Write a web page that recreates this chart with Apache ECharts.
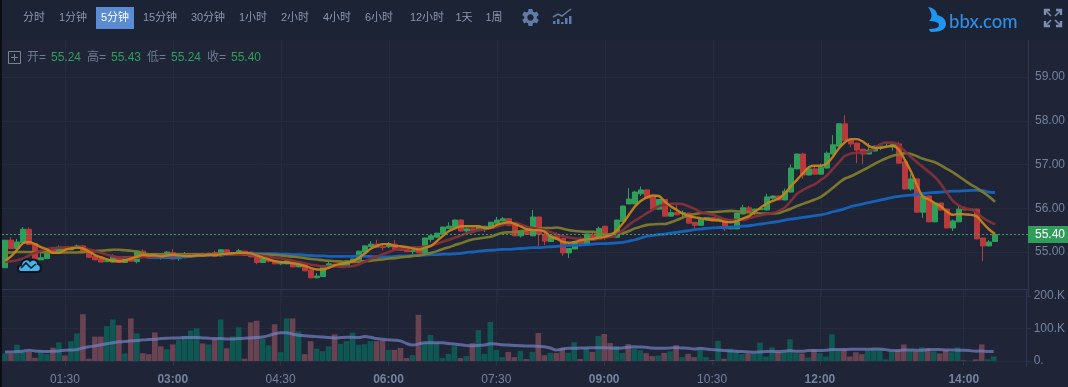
<!DOCTYPE html>
<html><head><meta charset="utf-8"><style>html,body{margin:0;padding:0;background:#1f2536;overflow:hidden}#c{width:1068px;height:387px}</style>
<script src="https://cdn.jsdelivr.net/npm/echarts@6/dist/echarts.min.js"></script></head><body><div id="c"></div><script>
const opens=[54.64,55.27,55.08,55.21,55.52,55.19,54.82,54.85,55.10,55.00,
55.11,55.05,55.09,55.14,55.00,54.90,54.85,54.78,54.77,54.89,
54.76,54.90,54.78,55.02,54.92,54.92,54.92,54.85,54.99,54.85,
54.87,54.89,54.90,54.95,54.92,54.99,54.91,55.05,54.95,54.95,
55.02,55.00,54.91,54.76,54.81,54.80,54.73,54.73,54.80,54.66,
54.72,54.59,54.41,54.44,54.66,54.72,54.66,54.68,54.76,54.82,
55.00,55.12,55.18,55.12,55.12,55.18,55.08,55.06,55.01,55.05,
54.98,55.29,55.34,55.40,55.54,55.56,55.73,55.48,55.53,55.50,
55.54,55.54,55.66,55.71,55.76,55.66,55.37,55.46,55.37,55.80,
55.40,55.24,55.37,55.31,54.98,55.07,55.25,55.18,55.39,55.30,
55.59,55.39,55.34,55.70,56.10,56.10,56.33,56.42,56.26,55.98,
56.20,55.82,55.90,55.88,55.89,55.68,55.61,55.73,55.79,55.73,
55.75,55.53,55.53,55.87,56.01,55.94,55.97,55.96,56.23,56.28,
56.19,56.37,56.90,57.24,56.76,56.90,56.78,56.92,57.24,57.42,
57.93,57.56,57.49,57.35,57.24,57.31,57.38,57.40,57.40,57.47,
57.06,56.44,56.67,55.91,56.28,55.69,56.12,55.98,55.55,55.69,
55.98,55.96,55.98,55.32,55.14,55.24];
const closes=[55.27,55.08,55.23,55.52,55.17,54.83,54.87,55.05,55.02,55.11,
55.04,55.11,55.14,54.98,54.88,54.82,54.77,54.80,54.89,54.76,
54.89,54.79,55.02,54.91,54.86,54.85,54.87,55.00,54.84,54.89,
54.95,54.93,54.93,54.91,54.97,54.90,55.05,54.95,54.98,55.03,
54.92,54.89,54.76,54.85,54.79,54.73,54.76,54.80,54.66,54.72,
54.57,54.41,54.45,54.68,54.73,54.66,54.72,54.80,54.84,55.02,
55.14,55.18,55.11,55.10,55.18,55.04,55.04,55.01,55.03,54.98,
55.32,55.37,55.43,55.57,55.59,55.73,55.48,55.53,55.49,55.56,
55.59,55.68,55.73,55.76,55.61,55.37,55.46,55.40,55.80,55.40,
55.25,55.37,55.30,54.98,55.08,55.24,55.19,55.41,55.27,55.54,
55.39,55.34,55.73,56.05,56.21,56.37,56.42,56.23,55.98,56.20,
55.82,55.90,55.85,55.90,55.66,55.61,55.75,55.79,55.71,55.76,
55.53,55.58,55.89,56.01,55.94,55.98,55.99,56.26,56.28,56.19,
56.39,56.92,57.24,56.76,56.90,56.78,56.94,57.26,57.45,57.93,
57.54,57.47,57.33,57.24,57.33,57.42,57.42,57.42,57.47,57.03,
56.44,56.67,55.91,56.28,55.69,56.12,55.96,55.55,55.71,55.98,
55.96,55.98,55.30,55.14,55.23,55.40];
const lows=[54.64,55.08,55.06,55.21,55.17,54.83,54.82,54.85,55.00,54.97,
55.03,55.04,55.08,54.97,54.86,54.82,54.77,54.77,54.76,54.75,
54.76,54.78,54.74,54.90,54.85,54.84,54.82,54.84,54.83,54.80,
54.86,54.88,54.89,54.90,54.91,54.89,54.90,54.94,54.94,54.94,
54.91,54.88,54.72,54.75,54.76,54.72,54.70,54.72,54.65,54.65,
54.56,54.40,54.40,54.43,54.65,54.65,54.65,54.67,54.75,54.81,
54.99,55.11,55.10,55.03,55.09,55.03,55.03,55.00,54.95,54.97,
54.97,55.22,55.33,55.39,55.53,55.55,55.47,55.43,55.48,55.49,
55.46,55.53,55.65,55.70,55.60,55.36,55.33,55.39,55.36,55.14,
55.16,55.23,55.29,54.91,54.86,55.06,55.18,55.17,55.26,55.29,
55.28,55.33,55.33,55.69,56.09,56.09,56.28,56.22,55.97,55.97,
55.81,55.81,55.84,55.78,55.65,55.52,55.60,55.72,55.70,55.72,
55.48,55.52,55.52,55.86,55.93,55.85,55.96,55.95,56.20,56.18,
56.18,56.36,56.89,56.67,56.75,56.77,56.77,56.91,57.23,57.41,
57.53,57.40,57.03,57.01,57.23,57.30,57.33,57.39,57.32,57.02,
56.43,56.40,55.90,55.78,55.68,55.68,55.95,55.54,55.48,55.68,
55.95,55.95,55.29,54.79,55.13,55.24];
const highs=[55.27,55.34,55.30,55.57,55.56,55.20,55.01,55.06,55.12,55.15,
55.12,55.13,55.17,55.15,55.01,54.91,54.86,54.85,54.95,54.90,
54.90,54.91,55.03,55.06,54.93,54.94,54.93,55.02,55.07,54.90,
55.00,54.94,54.97,54.99,54.98,55.03,55.06,55.06,54.99,55.07,
55.03,55.01,54.92,54.86,54.85,54.81,54.78,54.81,54.81,54.73,
54.73,54.60,54.52,54.69,54.80,54.73,54.73,54.81,54.85,55.03,
55.15,55.25,55.28,55.16,55.23,55.28,55.09,55.07,55.06,55.06,
55.33,55.38,55.44,55.58,55.68,55.74,55.75,55.54,55.54,55.57,
55.60,55.69,55.80,55.80,55.77,55.67,55.47,55.47,55.96,55.81,
55.50,55.38,55.45,55.32,55.09,55.25,55.35,55.42,55.45,55.58,
55.60,55.40,55.74,56.06,56.46,56.40,56.50,56.43,56.27,56.21,
56.21,55.98,56.10,55.95,55.90,55.69,55.76,55.80,55.80,55.77,
55.76,55.59,55.90,56.08,56.05,55.99,56.00,56.33,56.29,56.29,
56.45,57.00,57.25,57.27,56.91,56.95,57.02,57.30,57.67,57.95,
58.13,57.57,57.50,57.36,57.49,57.43,57.43,57.50,57.48,57.52,
57.07,56.78,56.68,56.29,56.29,56.13,56.13,55.99,55.74,56.05,
56.04,55.99,55.99,55.33,55.27,55.43];
const ma5=[54.80,54.90,55.05,55.20,55.23,55.18,55.11,55.06,54.98,54.98,
55.05,55.08,55.10,55.08,55.01,54.93,54.88,54.83,54.80,54.79,
54.81,54.85,54.89,54.93,54.92,54.92,54.90,54.92,54.93,54.92,
54.91,54.91,54.92,54.92,54.93,54.93,54.95,54.96,54.97,54.98,
54.98,54.97,54.92,54.87,54.83,54.79,54.77,54.76,54.74,54.72,
54.68,54.63,54.60,54.60,54.64,54.70,54.73,54.75,54.79,54.87,
54.97,55.08,55.14,55.18,55.18,55.14,55.13,55.11,55.08,55.06,
55.10,55.14,55.25,55.37,55.48,55.54,55.59,55.59,55.59,55.59,
55.54,55.56,55.62,55.66,55.68,55.64,55.58,55.52,55.50,55.50,
55.46,55.35,55.30,55.23,55.21,55.23,55.27,55.29,55.30,55.33,
55.35,55.39,55.50,55.66,55.85,56.04,56.17,56.25,56.29,56.28,
56.15,56.04,55.96,55.87,55.82,55.79,55.77,55.75,55.73,55.72,
55.69,55.68,55.71,55.77,55.82,55.92,56.02,56.11,56.17,56.23,
56.34,56.51,56.65,56.80,56.94,56.97,56.97,57.03,57.18,57.37,
57.51,57.58,57.58,57.52,57.42,57.38,57.38,57.41,57.43,57.33,
57.10,56.84,56.53,56.26,56.20,56.11,56.04,55.92,55.85,55.87,
55.86,55.85,55.81,55.66,55.52,55.41];
const ma10=[54.78,54.79,54.81,54.85,54.92,54.98,55.03,55.07,55.08,55.10,
55.11,55.11,55.11,55.09,55.06,55.02,54.98,54.94,54.90,54.88,
54.87,54.87,54.87,54.88,54.89,54.90,54.91,54.91,54.92,54.92,
54.92,54.92,54.92,54.93,54.93,54.93,54.94,54.94,54.95,54.95,
54.95,54.95,54.93,54.91,54.89,54.87,54.85,54.83,54.80,54.77,
54.74,54.71,54.69,54.67,54.67,54.68,54.66,54.67,54.68,54.72,
54.78,54.85,54.90,54.95,55.00,55.05,55.08,55.10,55.11,55.11,
55.12,55.15,55.19,55.24,55.28,55.33,55.38,55.43,55.46,55.50,
55.52,55.55,55.58,55.62,55.65,55.67,55.63,55.58,55.55,55.52,
55.50,55.45,55.40,55.36,55.33,55.31,55.30,55.29,55.29,55.30,
55.33,55.35,55.40,55.50,55.62,55.72,55.80,55.89,55.97,56.05,
56.08,56.10,56.11,56.09,56.04,55.98,55.91,55.88,55.85,55.80,
55.75,55.73,55.73,55.73,55.77,55.81,55.84,55.87,55.89,55.94,
56.02,56.17,56.33,56.42,56.49,56.55,56.65,56.75,56.90,57.05,
57.20,57.25,57.27,57.28,57.29,57.38,57.47,57.50,57.50,57.44,
57.30,57.17,57.05,56.94,56.83,56.71,56.55,56.35,56.17,56.06,
56.00,55.97,55.90,55.78,55.70,55.63];
const ma20=[54.99,54.99,55.00,55.00,55.00,55.00,55.00,54.99,54.99,54.99,
54.99,54.99,54.99,55.00,55.01,55.02,55.03,55.04,55.05,55.05,
55.04,55.03,55.01,54.97,54.95,54.95,54.95,54.95,54.95,54.95,
54.95,54.95,54.95,54.95,54.95,54.95,54.95,54.95,54.95,54.95,
54.95,54.95,54.95,54.94,54.94,54.93,54.92,54.91,54.89,54.88,
54.86,54.84,54.83,54.81,54.80,54.79,54.78,54.77,54.77,54.78,
54.79,54.80,54.82,54.83,54.85,54.86,54.88,54.89,54.91,54.92,
54.95,54.98,55.02,55.07,55.11,55.16,55.20,55.25,55.29,55.31,
55.33,55.35,55.40,55.44,55.45,55.46,55.48,55.49,55.52,55.54,
55.55,55.55,55.56,55.53,55.50,55.48,55.47,55.46,55.46,55.43,
55.40,55.41,55.42,55.43,55.48,55.54,55.58,55.62,55.63,55.64,
55.64,55.68,55.73,55.79,55.84,55.87,55.89,55.90,55.91,55.92,
55.93,55.94,55.93,55.92,55.91,55.89,55.88,55.88,55.88,55.89,
55.94,55.99,56.05,56.10,56.15,56.20,56.26,56.36,56.47,56.58,
56.68,56.73,56.80,56.87,56.94,57.02,57.09,57.15,57.20,57.23,
57.26,57.24,57.19,57.13,57.09,57.05,56.98,56.90,56.82,56.73,
56.63,56.54,56.46,56.37,56.27,56.15];
const ma60=[null,null,null,null,null,null,null,null,null,null,
null,null,null,null,null,null,null,null,null,null,
null,null,null,null,54.87,54.87,54.87,54.87,54.88,54.88,
54.89,54.90,54.91,54.92,54.93,54.94,54.95,54.96,54.96,54.97,
54.97,54.97,54.97,54.96,54.96,54.96,54.95,54.95,54.94,54.94,
54.93,54.92,54.91,54.91,54.90,54.90,54.90,54.90,54.90,54.91,
54.90,54.90,54.89,54.89,54.89,54.90,54.91,54.91,54.92,54.93,
54.93,54.94,54.94,54.95,54.95,54.96,54.97,54.99,55.00,55.02,
55.03,55.04,55.05,55.06,55.06,55.07,55.08,55.09,55.10,55.10,
55.11,55.12,55.13,55.14,55.15,55.15,55.16,55.17,55.18,55.19,
55.19,55.20,55.21,55.22,55.25,55.28,55.32,55.36,55.38,55.40,
55.41,55.43,55.45,55.47,55.49,55.51,55.53,55.54,55.55,55.56,
55.56,55.57,55.58,55.59,55.60,55.62,55.64,55.66,55.68,55.70,
55.73,55.75,55.77,55.79,55.81,55.83,55.85,55.88,55.92,55.95,
55.99,56.04,56.07,56.10,56.13,56.16,56.19,56.22,56.25,56.27,
56.29,56.30,56.32,56.34,56.35,56.36,56.37,56.38,56.39,56.39,
56.40,56.41,56.41,56.40,56.37,56.36];
const volumesK=[23,23,50,26,28,10,30,21,41,57,
17,61,85,144,7,75,75,107,128,110,
23,131,85,24,21,88,45,36,51,64,
77,94,101,54,51,67,128,39,76,104,
7,119,124,69,48,113,27,131,131,91,
21,61,38,30,45,82,53,61,87,50,
52,61,61,64,34,34,40,9,18,142,
56,80,56,9,22,46,9,15,55,95,
22,120,34,12,28,12,31,6,28,86,
18,25,25,40,25,58,6,40,28,77,
83,55,46,25,52,39,33,24,15,17,
25,30,49,12,22,12,37,12,3,62,
7,38,30,21,23,23,57,14,42,28,
27,67,24,23,11,35,24,14,82,35,
35,14,27,21,33,38,36,5,28,33,
51,33,30,42,38,30,23,33,27,42,
2,1,5,51,5,14];
const volumeDirs="grggrrggrg"+"rggrrrrggr"+"grgrrrrgrg"+"gggrgrgrgg"+"rrrggrggrg"+"rrgggrgggg"+"ggrrgrrrgr"+"ggggggrgrg"+"ggggrrgrgr"+"rgrrggrgrg"+"rrggrggrrg"+"rgrgrrggrg"+"rgggrggggr"+"gggrgrgggg"+"rrrrgggggr"+"rgrgrgrrgg"+"rgrrgg";
const volumeMaK=[28,28,29,30,33,31,30,29,30,31,
33,34,35,40,44,46,50,53,56,59,
60,62,63,65,66,67,69,70,71,71,
72,72,72,71,70,69,69,68,68,69,
70,71,72,74,78,84,87,87,83,79,
78,76,75,74,72,71,72,73,73,72,
75,73,69,67,65,64,62,54,49,52,
56,56,56,56,54,52,50,48,47,48,
49,53,52,50,49,48,47,46,46,45,
44,40,34,37,39,39,40,40,41,41,
41,40,39,40,42,44,43,42,40,39,
39,40,41,40,39,37,39,37,35,34,
32,31,30,29,28,27,28,29,30,29,
30,32,30,30,32,32,32,33,35,35,
35,36,36,36,36,37,37,35,32,32,
34,34,33,33,35,35,35,34,34,33,
33,32,30,31,29,29];
const periodLabels=["分时","1分钟","5分钟","15分钟","30分钟","1小时","2小时","4小时","6小时","12小时","1天","1周"];
const periodCenters=[34,73,115,160,208,253,295,337,379,427,464,494];
const tickTimes=["01:30","03:00","04:30","06:00","07:30","09:00","10:30","12:00","14:00"];
const boldTimes=["03:00","06:00","09:00","12:00","14:00"];
const priceTicks=[55,56,57,58,59];
const lastPrice=55.40;
const legendLabels=["开=","高=","低=","收="];
const legendValues=["55.24","55.43","55.24","55.40"];

const pad=n=>String(n).padStart(2,'0');
const categories=[];
for(let i=0;i<171;i++){const m=40+5*i;categories.push(pad(Math.floor(m/60))+':'+pad(m%60));}
const isTick=(i,v)=>tickTimes.includes(v);
const candleData=opens.map((o,i)=>[o,closes[i],lows[i],highs[i]]);
const UP='#2f9e5a',DOWN='#b93a3c',GRID='#262c40',AXIS='#2e3652',TXT='#74829f';
const volData=volumesK.map((v,i)=>({value:v*1000,itemStyle:{color:volumeDirs[i]==='g'?'#0f5753':'#6a4352'}}));
const maSeries=(name,data,color,width)=>({name,type:'line',data,smooth:0.3,symbol:'none',z:5,connectNulls:false,lineStyle:{color,width,opacity:.95},itemStyle:{color}});

echarts.graphic.registerShape('gearIcon',echarts.graphic.extendPath("M19.14 12.94c.04-.3.06-.61.06-.94 0-.32-.02-.64-.07-.94l2.03-1.58c.18-.14.23-.41.12-.61l-1.92-3.32c-.12-.22-.37-.29-.59-.22l-2.39.96c-.5-.38-1.03-.7-1.62-.94l-.36-2.54c-.04-.24-.24-.41-.48-.41h-3.84c-.24 0-.43.17-.47.41l-.36 2.54c-.59.24-1.13.57-1.62.94l-2.39-.96c-.22-.08-.47 0-.59.22L2.74 8.87c-.12.21-.08.47.12.61l2.03 1.58c-.05.3-.09.63-.09.94s.02.64.07.94l-2.03 1.58c-.18.14-.23.41-.12.61l1.92 3.32c.12.22.37.29.59.22l2.39-.96c.5.38 1.03.7 1.62.94l.36 2.54c.05.24.24.41.48.41h3.84c.24 0 .44-.17.47-.41l.36-2.54c.59-.24 1.13-.56 1.62-.94l2.39.96c.22.08.47 0 .59-.22l1.92-3.32c.12-.22.07-.47-.12-.61l-2.01-1.58zM12 15.6c-1.98 0-3.6-1.62-3.6-3.6s1.62-3.6 3.6-3.6 3.6 1.62 3.6 3.6-1.62 3.6-3.6 3.6z",{}));
echarts.graphic.registerShape('logoIcon',echarts.graphic.extendPath("M0 0 C6 1 9 4 9 8 C14 9 18 12 18 17 C18 22 13 25 4 25 C2 25 1 23 1 22 C6 22 11 21 11 18 C11 15 6 14 1 14 C5 11 4 5 0 0Z",{}));
echarts.graphic.registerShape('cloudIcon',echarts.graphic.extendPath("M4 16 C0 16 0 10 4 9 C5 3 11 2 13 5 C16 2 21 4 21 8 C25 9 25 16 20 16 Z",{}));
const g=[];
g.push({type:'rect',z:100,shape:{x:0,y:0,width:1068,height:40},style:{fill:'#1c2334'}});
g.push({type:'rect',z:101,shape:{x:0,y:0,width:2,height:387},style:{fill:'#0b0e16'}});
g.push({type:'rect',z:101,shape:{x:96,y:7,width:38,height:22},style:{fill:'#5b8bd0'}});
g.push({type:'rect',z:6,silent:true,shape:{x:2,y:289,width:1026,height:1},style:{fill:'#2e3652'}});
periodLabels.forEach((t,i)=>g.push({type:'text',z:102,x:periodCenters[i],y:18,style:{text:t,fill:i===2?'#ffffff':'#8a97b0',font:'11px "Liberation Sans","Noto Sans CJK SC",sans-serif',align:'center',verticalAlign:'middle'}}));
g.push({type:'gearIcon',z:102,x:520,y:7,scaleX:.875,scaleY:.875,style:{fill:'#5f7cab'}});
[[553,21],[557,19],[561,22],[565,18],[569,16]].forEach(b=>g.push({type:'rect',z:102,shape:{x:b[0],y:b[1],width:2.5,height:24-b[1]},style:{fill:'#5f7cab'}}));
g.push({type:'polyline',z:102,shape:{points:[[553,17],[558,14],[562,16],[567,12],[571,9]]},style:{stroke:'#5f7cab',fill:null,lineWidth:1.5}});
g.push({type:'logoIcon',z:102,x:928,y:7,style:{fill:'#1f95f2'}});
g.push({type:'text',z:102,x:949,y:22,style:{text:'bbx.com',fill:'#2b8fe8',font:'500 18.5px Lato,"Open Sans",sans-serif',verticalAlign:'middle'}});
[[[1045,15],[1045,10],[1050,10]],[[1056,10],[1061,10],[1061,15]],[[1045,21],[1045,26],[1050,26]],[[1056,26],[1061,26],[1061,21]]].forEach(p=>g.push({type:'polyline',z:102,shape:{points:p},style:{stroke:'#7b8fb4',fill:null,lineWidth:2.4}}));
[[[1046,11],[1051,16]],[[1060,11],[1055,16]],[[1046,25],[1051,20]],[[1060,25],[1055,20]]].forEach(p=>g.push({type:'polyline',z:102,shape:{points:p},style:{stroke:'#7b8fb4',fill:null,lineWidth:1.6}}));
g.push({type:'rect',z:102,shape:{x:8.5,y:51.5,width:12,height:12},style:{fill:null,stroke:'#7b828f',lineWidth:1}});
g.push({type:'polyline',z:102,shape:{points:[[11,57.5],[18,57.5]]},style:{stroke:'#7b828f',fill:null,lineWidth:1}});
g.push({type:'polyline',z:102,shape:{points:[[14.5,54],[14.5,61]]},style:{stroke:'#7b828f',fill:null,lineWidth:1}});
const lx=[27,87,147,207],vx=[51,111,171,231];
legendLabels.forEach((t,i)=>{
 g.push({type:'text',z:102,x:lx[i],y:58,style:{text:t,fill:'#6d7a92',font:'12px "Liberation Sans","Noto Sans CJK SC",sans-serif',verticalAlign:'middle'}});
 g.push({type:'text',z:102,x:vx[i],y:58,style:{text:legendValues[i],fill:UP,font:'12px "Liberation Sans",sans-serif',verticalAlign:'middle'}});
});
g.push({type:'cloudIcon',z:102,x:17,y:256,style:{fill:'#43b4ea',stroke:'#0d1420',lineWidth:2}});
g.push({type:'polyline',z:103,shape:{points:[[21,268],[26,263],[31,268],[36,264]]},style:{stroke:'#0d1420',fill:null,lineWidth:1.6}});

const chart=echarts.init(document.getElementById('c'),null,{renderer:'canvas'});
chart.setOption({
 animation:false,backgroundColor:'#1f2536',graphic:{elements:g},
 grid:[{left:2,width:1026,top:33.25,height:262.5,show:false},{left:2,width:1026,top:290,height:76,show:false}],
 xAxis:[
  {type:'category',gridIndex:0,data:categories,boundaryGap:true,axisLine:{show:false},axisTick:{show:false},axisLabel:{show:false},
   splitLine:{show:true,interval:isTick,alignWithLabel:true,lineStyle:{color:GRID,width:1}}},
  {type:'category',gridIndex:1,data:categories,boundaryGap:true,axisLine:{show:true,lineStyle:{color:AXIS}},
   axisTick:{show:true,interval:isTick,alignWithLabel:true,length:4,lineStyle:{color:AXIS}},
   splitLine:{show:true,interval:isTick,alignWithLabel:true,lineStyle:{color:GRID,width:1}},
   axisLabel:{interval:isTick,color:TXT,fontSize:12,margin:8,fontFamily:'"Liberation Sans",sans-serif',
    formatter:v=>boldTimes.includes(v)?'{b|'+v+'}':v,rich:{b:{fontWeight:'bold',color:TXT,fontSize:12,fontFamily:'"Liberation Sans",sans-serif'}}}}
 ],
 yAxis:[
  {type:'value',gridIndex:0,position:'right',min:54,max:60,interval:1,scale:true,
   axisLine:{show:true,lineStyle:{color:AXIS}},axisTick:{show:false},
   axisLabel:{showMinLabel:false,showMaxLabel:false,color:TXT,fontSize:12,margin:7,padding:[2,0,0,0],fontFamily:'"Liberation Sans",sans-serif',formatter:v=>priceTicks.includes(v)?v.toFixed(2):''},
   splitLine:{show:true,showMinLine:false,showMaxLine:false,lineStyle:{color:GRID,width:1}}},
  {type:'value',gridIndex:1,position:'right',min:-15385,max:218462,
   axisLine:{show:true,lineStyle:{color:AXIS}},axisTick:{show:true,length:4,customValues:[0,100000,200000],lineStyle:{color:AXIS}},
   axisLabel:{customValues:[0,100000,200000],color:TXT,fontSize:12,margin:7,padding:[1,0,0,0],fontFamily:'"Liberation Sans",sans-serif',formatter:v=>v===0?'0.':(v/1000)+'.K'},
   splitLine:{show:false}}
 ],
 series:[
  {name:'K',type:'candlestick',xAxisIndex:0,yAxisIndex:0,data:candleData,barWidth:5,z:3,
   itemStyle:{color:UP,color0:DOWN,borderColor:UP,borderColor0:DOWN,borderWidth:1},
   markLine:{silent:true,symbol:'none',z:8,animation:false,data:[{yAxis:lastPrice}],precision:2,
    lineStyle:{color:'#2fa35f',type:[2,2],width:1},
    label:{show:true,position:'end',distance:0,formatter:()=>lastPrice.toFixed(2),color:'#fff',fontSize:12,fontFamily:'"Liberation Sans",sans-serif',backgroundColor:'#2f9e5a',padding:[3,7,2,7],width:26}}},
  Object.assign(maSeries('MA60',ma60,'#1565c0',2.8),{xAxisIndex:0,yAxisIndex:0}),
  Object.assign(maSeries('MA20',ma20,'#7f7b2c',2.6),{xAxisIndex:0,yAxisIndex:0}),
  Object.assign(maSeries('MA10',ma10,'#84303a',2.6),{xAxisIndex:0,yAxisIndex:0}),
  Object.assign(maSeries('MA5',ma5,'#c9821a',2.4),{xAxisIndex:0,yAxisIndex:0}),
  {name:'VOL',type:'bar',xAxisIndex:1,yAxisIndex:1,data:volData,barWidth:5.6,z:2,
   markLine:{silent:true,symbol:'none',z:1,animation:false,label:{show:false},lineStyle:{color:GRID,width:1,type:'solid'},data:[{yAxis:0},{yAxis:100000},{yAxis:200000}]}},
  {name:'VOLMA',type:'line',xAxisIndex:1,yAxisIndex:1,data:volumeMaK.map(v=>v*1000),smooth:0.3,symbol:'none',z:4,lineStyle:{color:'#7480c4',width:3,opacity:.7}}
 ]
});
</script></body></html>
